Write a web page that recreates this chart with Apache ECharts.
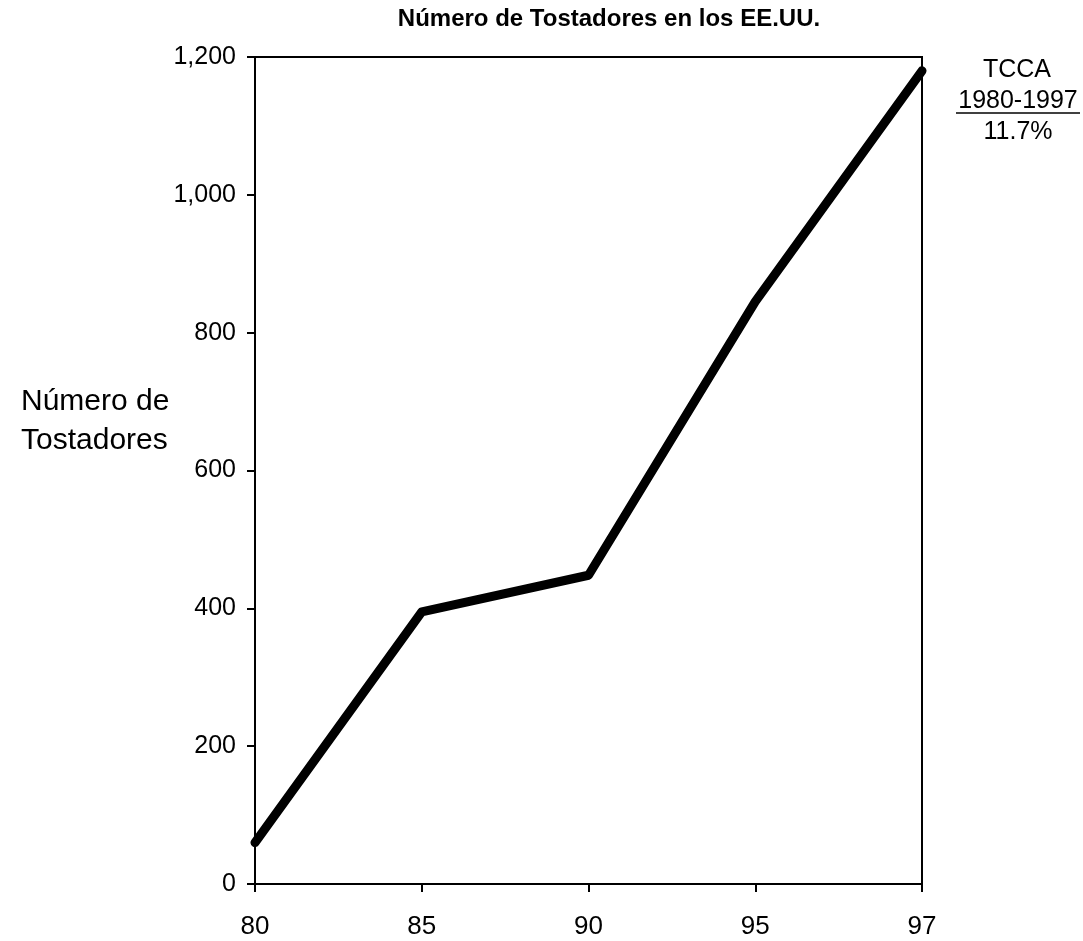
<!DOCTYPE html>
<html>
<head>
<meta charset="utf-8">
<script src="https://cdn.jsdelivr.net/npm/echarts@6/dist/echarts.min.js"></script>
<style>html,body{margin:0;padding:0;background:#fff;}#c{width:1083px;height:941px;}</style>
</head>
<body>
<div id="c"></div>
<script>
const years = ['80', '85', '90', '95', '97'];
const roasters = [60, 395, 448, 845, 1180];
const yTicks = [0, 200, 400, 600, 800, 1000, 1200];

const chart = echarts.init(document.getElementById('c'), null, {renderer: 'canvas'});
const font = 'Liberation Sans, Arial, sans-serif';
const txt = (text, x, y, align, size) => ({
  type: 'text', x: x, y: y,
  style: {text: text, fontFamily: font, fontSize: size || 25, fill: '#000', textAlign: align, textVerticalAlign: 'middle'}
});
chart.setOption({
  backgroundColor: '#fff',
  animation: false,
  title: {
    text: 'Número de Tostadores en los EE.UU.',
    left: 604, top: 2, textAlign: 'center',
    textStyle: {fontFamily: font, fontSize: 24, fontWeight: 'bold', color: '#000'}
  },
  grid: {left: 255, right: 161, top: 57, bottom: 57, show: true, borderColor: '#000', borderWidth: 2, backgroundColor: 'transparent'},
  xAxis: {
    type: 'category', data: years, boundaryGap: false,
    axisLine: {lineStyle: {color: '#000', width: 2}},
    axisTick: {show: true, length: 8, lineStyle: {color: '#000', width: 2}, alignWithLabel: true},
    axisLabel: {fontFamily: font, fontSize: 26, color: '#000', margin: 30},
    splitLine: {show: false}
  },
  yAxis: {
    type: 'value', min: 0, max: 1200, interval: 200,
    axisLine: {show: true, lineStyle: {color: '#000', width: 2}},
    axisTick: {show: true, length: 8, lineStyle: {color: '#000', width: 2}},
    axisLabel: {fontFamily: font, fontSize: 25, color: '#000', margin: 19,
      formatter: v => v.toLocaleString('en-US')},
    splitLine: {show: false}
  },
  series: [{
    type: 'line', data: roasters, symbol: 'none',
    lineStyle: {color: '#000', width: 9, cap: 'round', join: 'round'}
  }],
  graphic: [
    txt('Número de', 21, 402, 'left', 30),
    txt('Tostadores', 21, 441, 'left', 30),
    txt('TCCA', 1017, 70, 'center'),
    txt('1980-1997', 1018, 101, 'center'),
    {type: 'line', shape: {x1: 956, y1: 113, x2: 1080, y2: 113}, style: {stroke: '#000', lineWidth: 1.5}},
    txt('11.7%', 1018, 132, 'center')
  ]
});
</script>
</body>
</html>
